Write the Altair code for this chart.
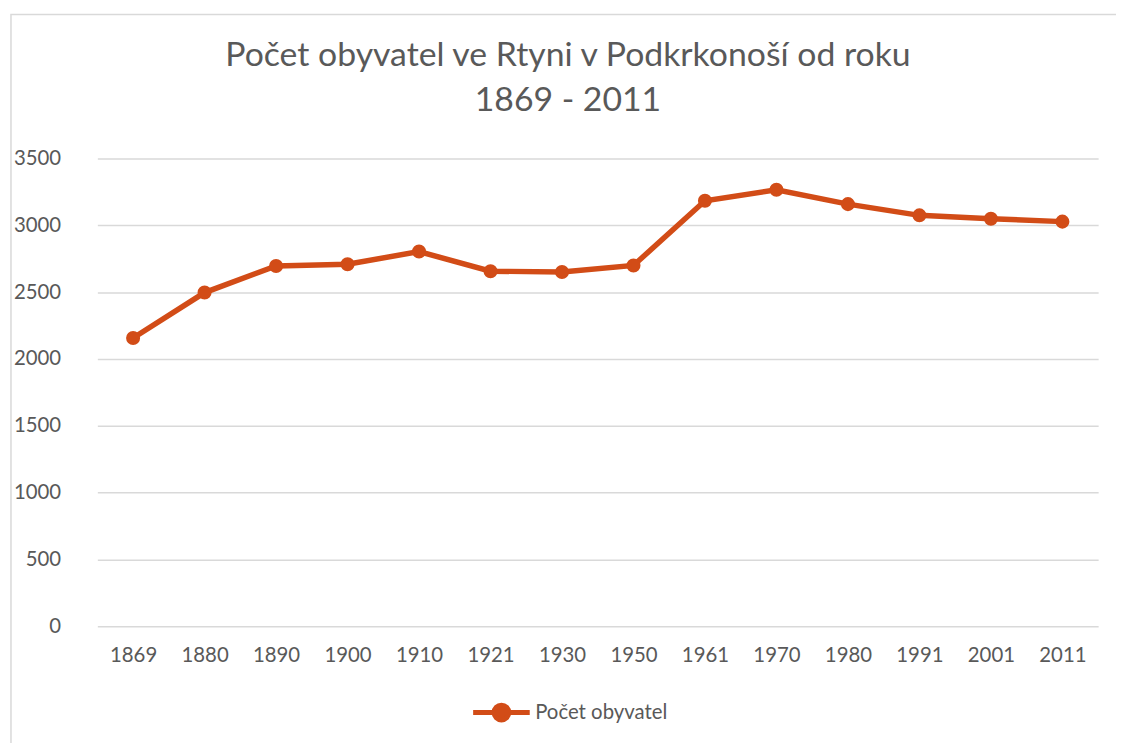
import altair as alt
import pandas as pd

years = ["1869", "1880", "1890", "1900", "1910", "1921", "1930", "1950",
         "1961", "1970", "1980", "1991", "2001", "2011"]
population = [2157, 2497, 2696, 2709, 2804, 2657, 2651, 2700,
              3184, 3266, 3159, 3075, 3050, 3028]
series_name = "Počet obyvatel"
title_lines = ["Počet obyvatel ve Rtyni v Podkrkonoší od roku", "1869 - 2011"]
y_ticks = [0, 500, 1000, 1500, 2000, 2500, 3000, 3500]

df = pd.DataFrame({"rok": years, "pocet": population, "serie": [series_name] * len(years)})

LINE_COLOR = "#d24c17"
TEXT_COLOR = "#595959"
GRID_COLOR = "#d9d9d9"
FONT = "Lato"
LABEL_SIZE = 20.5

legend_symbol = ("M-1,0H1M-0.26,0A0.26,0.26,0,1,0,0.26,0"
                 "A0.26,0.26,0,1,0,-0.26,0Z")

border = alt.Chart(pd.DataFrame({"a": [0]})).mark_rect(
    fill=None, stroke=GRID_COLOR, strokeWidth=1.5
).encode(
    x=alt.value(-87), x2=alt.value(1040),
    y=alt.value(-145), y2=alt.value(600)
)

line = alt.Chart(df).mark_line(
    strokeWidth=5.5,
    point=alt.OverlayMarkDef(filled=True, size=200, opacity=1),
).encode(
    x=alt.X("rok:O", sort=years, scale=alt.Scale(type="point", padding=0.5),
            axis=alt.Axis(title=None, labelAngle=0, domain=False, ticks=False,
                          labelPadding=20, labelFontSize=LABEL_SIZE, labelColor=TEXT_COLOR,
                          labelFont=FONT)),
    y=alt.Y("pocet:Q", scale=alt.Scale(domain=[0, 3500], nice=False),
            axis=alt.Axis(title=None, values=y_ticks, format="d", domain=False, ticks=False,
                          gridColor=GRID_COLOR, gridWidth=1.5, labelPadding=37,
                          labelFontSize=LABEL_SIZE, labelColor=TEXT_COLOR, labelFont=FONT)),
    color=alt.Color("serie:N", scale=alt.Scale(range=[LINE_COLOR]),
                    legend=alt.Legend(title=None, orient="none", legendX=376,
                                      legendY=527, symbolType=legend_symbol,
                                      symbolSize=3249, symbolStrokeWidth=5,
                                      symbolFillColor=LINE_COLOR,
                                      symbolStrokeColor=LINE_COLOR,
                                      labelFontSize=LABEL_SIZE, labelColor=TEXT_COLOR,
                                      labelFont=FONT, labelOffset=3, padding=0)),
)

chart = alt.layer(border, line).properties(
    width=1008, height=471,
    padding={"left": 90, "top": 149, "right": 18, "bottom": 115},
    autosize=alt.AutoSizeParams(type="none"),
    title=alt.TitleParams(text=title_lines, fontSize=34, font=FONT, fontWeight="normal",
                          color=TEXT_COLOR, anchor="middle", dx=-30, offset=0, dy=105,
                          lineHeight=45),
).configure_view(stroke=None)

chart.save("out.html", embed_options={"renderer": "svg", "actions": False})
